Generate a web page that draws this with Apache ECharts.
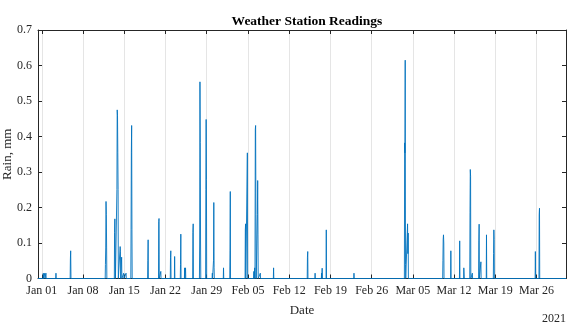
<!DOCTYPE html>
<html>
<head>
<meta charset="utf-8">
<script src="https://cdn.jsdelivr.net/npm/echarts@6/dist/echarts.min.js"></script>
<style>html,body{margin:0;padding:0;background:#fff}#chart{width:580px;height:330px}</style>
</head>
<body>
<div id="chart"></div>
<script>
// Days since 2021-01-01 00:00 and rain readings (mm)
const rainDay = [
  -0.65,
  0.21, 0.25, 0.29,  0.46, 0.5, 0.54,  0.66, 0.7, 0.74,
  2.36, 2.4, 2.44,
  4.81, 4.85, 4.9, 4.95,
  10.76, 10.8, 10.85, 10.9, 10.95, 11.0, 11.04,
  12.31, 12.35, 12.4, 12.45, 12.5,
  12.71, 12.75, 12.8, 12.85, 12.9, 12.95, 12.99,
  13.26, 13.3, 13.35, 13.39,  13.51, 13.55, 13.59,
  13.86, 13.9, 13.94,  14.26, 14.3, 14.34,
  15.11, 15.15, 15.2, 15.25, 15.3, 15.34,
  17.96, 18.0, 18.05, 18.09,
  19.81, 19.85, 19.9, 19.94,  20.16, 20.2, 20.24,
  21.81, 21.85, 21.9, 21.94,
  22.51, 22.55, 22.59,
  23.51, 23.55, 23.6, 23.64,
  24.21, 24.25, 24.29,  24.36, 24.4, 24.44,
  25.61, 25.65, 25.7, 25.74,
  26.76, 26.8, 26.85, 26.9, 26.95, 26.99,
  27.81, 27.85, 27.9, 27.95, 27.99,
  28.91, 28.95, 28.99,  29.11, 29.15, 29.2, 29.25, 29.29,
  30.81, 30.85, 30.89,
  31.91, 31.95, 32.0, 32.04,
  34.51, 34.55, 34.6, 34.64,  34.86, 34.9, 34.94,
  35.96, 36.0, 36.04,  36.11, 36.15, 36.19,
  36.21, 36.25, 36.3, 36.35, 36.4,
  36.56, 36.6, 36.65, 36.7, 36.74,
  37.06, 37.1, 37.14,
  39.31, 39.35, 39.39,
  45.06, 45.1, 45.15, 45.19,
  46.36, 46.4, 46.44,
  47.46, 47.5, 47.54,  47.56, 47.6, 47.64,
  48.26, 48.3, 48.34,
  52.96, 53.0, 53.04,
  61.56, 61.6, 61.65, 61.7, 61.75, 61.79,
  62.06, 62.1, 62.15, 62.2, 62.24,
  68.06, 68.1, 68.15, 68.2, 68.25, 68.29,
  69.41, 69.45, 69.49,
  70.91, 70.95, 70.99,
  71.61, 71.65, 71.7, 71.74,
  72.66, 72.7, 72.75, 72.8, 72.84,
  73.06, 73.1, 73.14,
  74.16, 74.2, 74.25, 74.29,  74.51, 74.55, 74.59,
  75.46, 75.5, 75.54,
  76.66, 76.7, 76.75, 76.8, 76.84,
  83.76, 83.8, 83.84,
  84.41, 84.45, 84.5, 84.54,
  89.0
];
const rainMm = [
  0,
  0, 0.015, 0,  0, 0.015, 0,  0, 0.015, 0,
  0, 0.015, 0,
  0, 0.055, 0.078, 0,
  0, 0.04, 0.086, 0.217, 0.18, 0.086, 0,
  0, 0.13, 0.168, 0.1, 0,
  0, 0.25, 0.475, 0.46, 0.354, 0.25, 0,
  0, 0.09, 0.075, 0,  0, 0.06, 0,
  0, 0.015, 0,  0, 0.015, 0,
  0, 0.137, 0.354, 0.431, 0.137, 0,
  0, 0.05, 0.109, 0,
  0, 0.16, 0.169, 0,  0, 0.02, 0,
  0, 0.06, 0.078, 0,
  0, 0.062, 0,
  0, 0.04, 0.125, 0,
  0, 0.03, 0,  0, 0.03, 0,
  0, 0.13, 0.154, 0,
  0, 0.1, 0.554, 0.383, 0.1, 0,
  0, 0.25, 0.448, 0.278, 0,
  0, 0.015, 0,  0, 0.05, 0.214, 0.03, 0,
  0, 0.03, 0,
  0, 0.08, 0.245, 0,
  0, 0.137, 0.154, 0,  0, 0.354, 0,
  0, 0.02, 0,  0, 0.03, 0,
  0, 0.42, 0.431, 0.18, 0,
  0, 0.18, 0.276, 0.125, 0,
  0, 0.015, 0,
  0, 0.03, 0,
  0, 0.06, 0.076, 0,
  0, 0.015, 0,
  0, 0.015, 0,  0, 0.029, 0,
  0, 0.137, 0,
  0, 0.015, 0,
  0, 0.382, 0.354, 0.615, 0.04, 0,
  0, 0.154, 0.07, 0.128, 0,
  0, 0.05, 0.11, 0.123, 0.1, 0,
  0, 0.078, 0,
  0, 0.106, 0,
  0, 0.03, 0.03, 0,
  0, 0.185, 0.307, 0.288, 0,
  0, 0.015, 0,
  0, 0.106, 0.153, 0,  0, 0.047, 0,
  0, 0.123, 0,
  0, 0.07, 0.137, 0.11, 0,
  0, 0.076, 0,
  0, 0.18, 0.198, 0,
  0
];
const tickDays = [0, 7, 14, 21, 28, 35, 42, 49, 56, 63, 70, 77, 84];
const monthNames = ['Jan','Feb','Mar','Apr','May','Jun','Jul','Aug','Sep','Oct','Nov','Dec'];
const titleText = 'Weather Station Readings';
const xName = 'Date';
const yName = 'Rain, mm';
const yearText = '2021';

function dayLabel(v) {
  const d = new Date(Date.UTC(2021, 0, 1 + Math.round(v)));
  const dd = String(d.getUTCDate()).padStart(2, '0');
  return monthNames[d.getUTCMonth()] + ' ' + dd;
}

const FONT = "'Liberation Serif', 'Times New Roman', serif";
const AX = '#262626';
const chart = echarts.init(document.getElementById('chart'), null, {renderer: 'canvas'});
chart.setOption({
  animation: false,
  backgroundColor: '#ffffff',
  title: {
    text: titleText, left: 302, top: 10, textAlign: 'center',
    textStyle: {fontFamily: FONT, fontSize: 13.5, fontWeight: 'bold', color: '#000'}
  },
  grid: {left: 38, right: 14, top: 30, bottom: 51.5, containLabel: false, outerBoundsMode: 'none'},
  graphic: [{
    type: 'text', right: 14, top: 313,
    style: {text: yearText, font: '12px ' + FONT, fill: AX}
  }],
  xAxis: [{
    type: 'value', min: -0.65, max: 89, position: 'bottom',
    name: xName, nameLocation: 'middle', nameGap: 26, nameMoveOverlap: false,
    nameTextStyle: {fontFamily: FONT, fontSize: 13, color: AX},
    axisLine: {show: true, onZero: false, lineStyle: {color: AX, width: 1}},
    axisTick: {show: true, inside: true, length: 4, customValues: tickDays, lineStyle: {color: AX}},
    axisLabel: {customValues: tickDays, formatter: dayLabel, fontFamily: FONT, fontSize: 12, color: AX, margin: 6},
    splitLine: {show: true, lineStyle: {color: '#e5e5e5', width: 1}}
  }, {
    type: 'value', min: -0.65, max: 89, position: 'top',
    axisLine: {show: true, onZero: false, lineStyle: {color: AX, width: 1}},
    axisTick: {show: true, inside: true, length: 4, customValues: tickDays, lineStyle: {color: AX}},
    axisLabel: {show: false},
    splitLine: {show: false}
  }],
  yAxis: [{
    type: 'value', min: 0, max: 0.7, interval: 0.1, position: 'left',
    name: yName, nameLocation: 'middle', nameGap: 24, nameMoveOverlap: false,
    nameTextStyle: {fontFamily: FONT, fontSize: 13, color: AX},
    axisLine: {show: true, onZero: false, lineStyle: {color: AX, width: 1}},
    axisTick: {show: true, inside: true, length: 4, lineStyle: {color: AX}},
    axisLabel: {fontFamily: FONT, fontSize: 12, color: AX, margin: 6,
      formatter: v => (v === 0 ? '0' : v.toFixed(1))},
    splitLine: {show: false}
  }, {
    type: 'value', min: 0, max: 0.7, interval: 0.1, position: 'right',
    axisLine: {show: true, onZero: false, lineStyle: {color: AX, width: 1}},
    axisTick: {show: true, inside: true, length: 4, lineStyle: {color: AX}},
    axisLabel: {show: false},
    splitLine: {show: false}
  }],
  series: [{
    type: 'line', xAxisIndex: 0, yAxisIndex: 0,
    data: rainDay.map((d, i) => [d, rainMm[i]]),
    showSymbol: false, symbol: 'none',
    lineStyle: {color: '#0072BD', width: 0.9},
    z: 3
  }]
});
</script>
</body>
</html>
